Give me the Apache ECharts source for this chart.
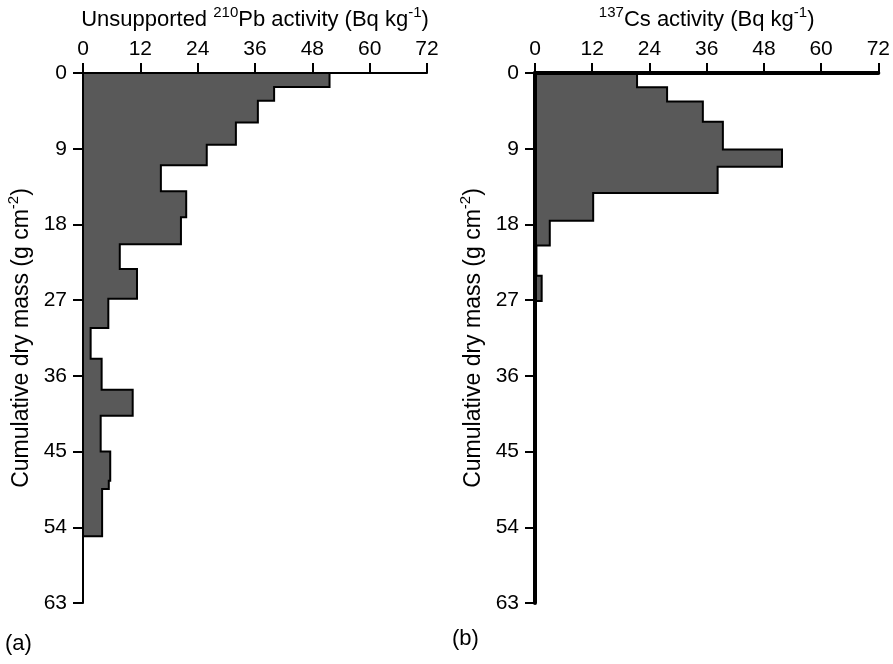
<!DOCTYPE html>
<html>
<head>
<meta charset="utf-8">
<script src="https://cdn.jsdelivr.net/npm/echarts@6/dist/echarts.min.js"></script>
<style>
html,body{margin:0;padding:0;background:#fff;}
#chart{width:893px;height:664px;}
</style>
</head>
<body>
<div id="chart"></div>
<script>
// ---- Data ----
const xTicks = [0, 12, 24, 36, 48, 60, 72];
const yTicks = [0, 9, 18, 27, 36, 45, 54, 63];

// Unsupported 210Pb: layer boundaries (cumulative dry mass, g cm-2) and activities (Bq kg-1)
const pbBounds = [0, 1.66, 3.29, 5.87, 8.52, 10.98, 14.07, 17.16, 20.35, 23.30, 26.83, 30.31, 33.96, 37.64, 40.73, 44.98, 48.46, 49.45, 55.08];
const pbValues = [51.6, 40.0, 36.6, 32.0, 25.9, 16.3, 21.6, 20.5, 7.7, 11.3, 5.3, 1.6, 3.9, 10.4, 3.7, 5.7, 5.4, 4.0];

// 137Cs
const csBounds = [0, 1.7, 3.4, 5.8, 9.1, 11.15, 14.25, 17.55, 20.5, 24.1, 27.1];
const csValues = [21.4, 27.7, 35.2, 39.4, 51.8, 38.3, 12.2, 3.1, 0.3, 1.4];

const FONT = 'Liberation Sans, Arial, sans-serif';

function profileSeries(bounds, values, idx) {
  return {
    type: 'custom',
    xAxisIndex: idx,
    yAxisIndex: idx,
    z: 2,
    data: [[0, 0]],
    renderItem: function (params, api) {
      const pts = [api.coord([0, bounds[0]])];
      for (let i = 0; i < values.length; i++) {
        pts.push(api.coord([values[i], bounds[i]]));
        pts.push(api.coord([values[i], bounds[i + 1]]));
      }
      pts.push(api.coord([0, bounds[bounds.length - 1]]));
      return {
        type: 'polygon',
        shape: { points: pts },
        style: { fill: '#595959', stroke: '#000', lineWidth: 2, lineJoin: 'miter' }
      };
    }
  };
}

const richText = {
  n: { fontSize: 22, fontFamily: FONT, color: '#000', lineHeight: 26, verticalAlign: 'bottom' },
  s: { fontSize: 15, fontFamily: FONT, color: '#000', lineHeight: 26, verticalAlign: 'top' }
};
const richTextY = {
  n: { fontSize: 23, fontFamily: FONT, color: '#000', lineHeight: 27, verticalAlign: 'bottom' },
  s: { fontSize: 15, fontFamily: FONT, color: '#000', lineHeight: 27, verticalAlign: 'top' }
};

function xAxisCfg(idx, name, lw) {
  return {
    type: 'value', gridIndex: idx, position: 'top',
    min: 0, max: 72, interval: 12, z: 10,
    name: name, nameLocation: 'middle', nameGap: 42,
    nameTextStyle: { rich: richText },
    axisLine: { show: true, onZero: false, lineStyle: { color: '#000', width: lw } },
    axisTick: { show: true, length: 10, lineStyle: { color: '#000', width: 2 } },
    axisLabel: { margin: 13, fontSize: 21, fontFamily: FONT, color: '#000',
      formatter: function (v) { return xTicks.indexOf(v) >= 0 ? String(v) : ''; } },
    splitLine: { show: false }
  };
}
function yAxisCfg(idx, lw) {
  return {
    type: 'value', gridIndex: idx, inverse: true,
    min: 0, max: 63, interval: 9, z: 10,
    name: '{n|Cumulative dry mass (g cm}{s|-2}{n|)}', nameLocation: 'middle', nameGap: 50,
    nameTextStyle: { rich: richTextY },
    axisLine: { show: true, onZero: false, lineStyle: { color: '#000', width: lw } },
    axisTick: { show: true, length: 10, lineStyle: { color: '#000', width: 2 } },
    axisLabel: { margin: 16, fontSize: 21, fontFamily: FONT, color: '#000',
      formatter: function (v) { return yTicks.indexOf(v) >= 0 ? String(v) : ''; } },
    splitLine: { show: false }
  };
}

const chart = echarts.init(document.getElementById('chart'), null, { renderer: 'canvas' });
chart.setOption({
  backgroundColor: '#fff',
  animation: false,
  grid: [
    { left: 83, top: 73, width: 344, height: 530 },
    { left: 535, top: 73, width: 344, height: 530 }
  ],
  xAxis: [
    xAxisCfg(0, '{n|Unsupported }{s|210}{n|Pb activity (Bq kg}{s|-1}{n|)}', 2),
    xAxisCfg(1, '{s|137}{n|Cs activity (Bq kg}{s|-1}{n|)}', 4)
  ],
  yAxis: [yAxisCfg(0, 2), yAxisCfg(1, 4)],
  graphic: [
    { type: 'text', left: 5, top: 633, style: { text: '(a)', font: '22px ' + FONT, fill: '#000' } },
    { type: 'text', left: 452, top: 628, style: { text: '(b)', font: '22px ' + FONT, fill: '#000' } }
  ],
  series: [profileSeries(pbBounds, pbValues, 0), profileSeries(csBounds, csValues, 1)]
});
</script>
</body>
</html>
